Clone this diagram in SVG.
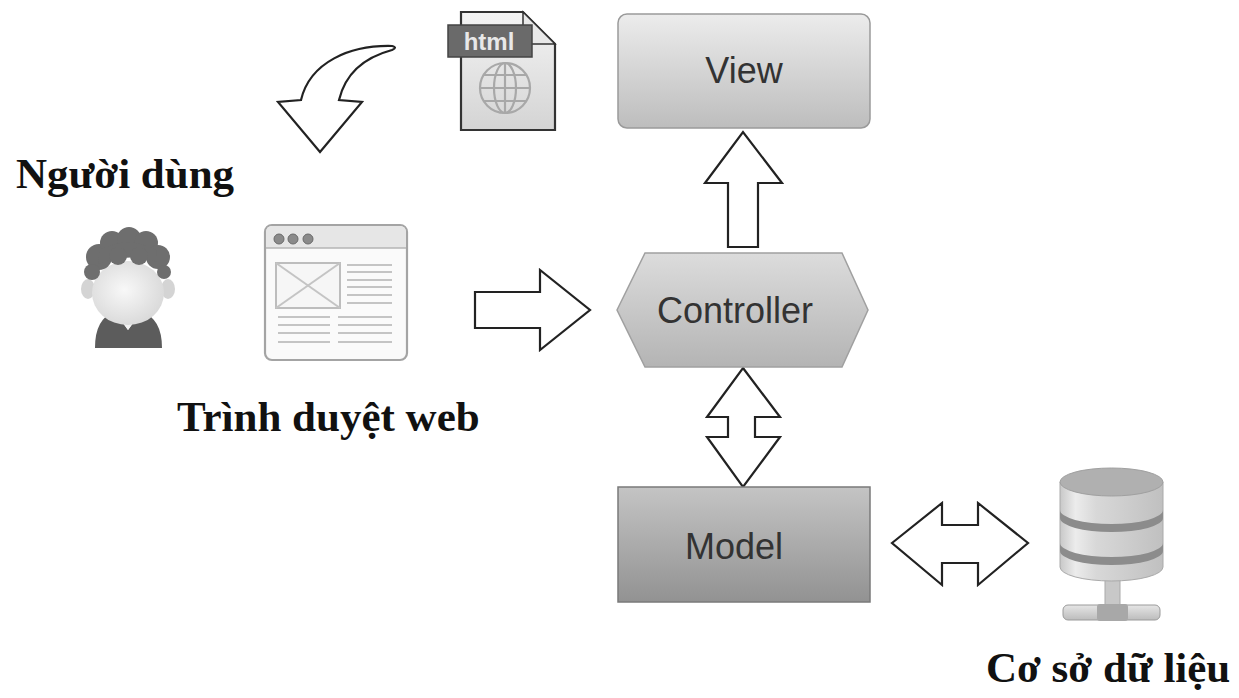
<svg xmlns="http://www.w3.org/2000/svg" width="1239" height="698" viewBox="0 0 1239 698">
<style>
.arrow{fill:#fff;stroke:#222;stroke-width:2.2;stroke-linejoin:miter}
.lbl{font-family:"Liberation Serif","Times New Roman",serif;font-weight:bold;fill:#111;font-size:43px}
.box{font-family:"Liberation Sans",Arial,sans-serif;font-size:36px;fill:#333;text-anchor:middle}
.ln{stroke:#c4c4c4;stroke-width:2}
</style>
<defs>
<linearGradient id="gView" x1="0" y1="0" x2="0" y2="1"><stop offset="0" stop-color="#ececec"/><stop offset="1" stop-color="#bdbdbd"/></linearGradient>
<linearGradient id="gCtrl" x1="0" y1="0" x2="0" y2="1"><stop offset="0" stop-color="#dcdcdc"/><stop offset="1" stop-color="#b4b4b4"/></linearGradient>
<linearGradient id="gModel" x1="0" y1="0" x2="0" y2="1"><stop offset="0" stop-color="#c4c4c4"/><stop offset="1" stop-color="#929292"/></linearGradient>
<linearGradient id="gDoc" x1="0" y1="0" x2="0" y2="1"><stop offset="0" stop-color="#f4f4f4"/><stop offset="1" stop-color="#d4d4d4"/></linearGradient>
<linearGradient id="gCyl" x1="0" y1="0" x2="1" y2="0"><stop offset="0" stop-color="#c8c8c8"/><stop offset="0.15" stop-color="#ececec"/><stop offset="0.35" stop-color="#d8d8d8"/><stop offset="1" stop-color="#c0c0c0"/></linearGradient>
<radialGradient id="gFace" cx="0.45" cy="0.45" r="0.6"><stop offset="0" stop-color="#f8f8f8"/><stop offset="1" stop-color="#d8d8d8"/></radialGradient>
<linearGradient id="gBar" x1="0" y1="0" x2="0" y2="1"><stop offset="0" stop-color="#e6e6e6"/><stop offset="1" stop-color="#bcbcbc"/></linearGradient>
</defs>

<g id="connectors">
  <path class="arrow" d="M392 46 C350 45 310 62 301 100 L278 102 L320 152 L362 102 L339 100 C345 75 362 58 392 50 C396 48 396 47 392 46 Z"/>
  <path class="arrow" d="M475 292 L540 292 L540 270 L590 310 L540 350 L540 328 L475 328 Z"/>
  <path class="arrow" d="M728 247 L728 183 L705 183 L743 132 L782 183 L758 183 L758 247 Z"/>
  <path class="arrow" d="M743 368 L780 417 L755 417 L755 437 L780 437 L743 487 L707 437 L728 437 L728 417 L707 417 Z"/>
  <path class="arrow" d="M892 543 L942 503 L942 525 L978 525 L978 503 L1028 543 L978 585 L978 563 L942 563 L942 585 Z"/>
</g>

<g id="view">
  <rect x="618" y="14" width="252" height="114" rx="9" fill="url(#gView)" stroke="#9a9a9a" stroke-width="1.5"/>
  <text class="box" x="744" y="83">View</text>
</g>

<g id="controller">
  <polygon points="617,310 645,253 842,253 868,310 842,367 645,367" fill="url(#gCtrl)" stroke="#a0a0a0" stroke-width="1.5"/>
  <text class="box" x="735" y="323">Controller</text>
</g>

<g id="model">
  <rect x="618" y="487" width="252" height="115" fill="url(#gModel)" stroke="#7a7a7a" stroke-width="1.5"/>
  <text class="box" x="734" y="559">Model</text>
</g>

<g id="html-file">
  <path d="M461 12 L523 12 L555 44 L555 130 L461 130 Z" fill="url(#gDoc)" stroke="#333" stroke-width="2.2"/>
  <path d="M523 12 L523 44 L555 44 Z" fill="#e8e8e8" stroke="#333" stroke-width="1.5"/>
  <rect x="448" y="25" width="84" height="32" fill="#6a6a6a" stroke="#444" stroke-width="1.5"/>
  <text x="489" y="50" font-family="'Liberation Sans',Arial,sans-serif" font-size="24" font-weight="bold" fill="#e8e8e8" text-anchor="middle">html</text>
  <g fill="none" stroke="#a8a8a8" stroke-width="2.2">
    <circle cx="505" cy="88" r="25"/>
    <ellipse cx="505" cy="88" rx="11" ry="25"/>
    <line x1="505" y1="63" x2="505" y2="113"/>
    <line x1="480" y1="88" x2="530" y2="88"/>
    <line x1="484" y1="75" x2="526" y2="75"/>
    <line x1="484" y1="101" x2="526" y2="101"/>
  </g>
</g>

<g id="user">
  <text class="lbl" x="16" y="188">Người dùng</text>
  <path d="M95 348 Q95 318 115 312 L128 330 L141 312 Q162 318 162 348 Z" fill="#5c5c5c"/>
  <path d="M115 312 L128 330 L141 312 Z" fill="#f2f2f2"/>
  <ellipse cx="88" cy="289" rx="7" ry="10" fill="#d4d4d4"/>
  <ellipse cx="168" cy="289" rx="7" ry="10" fill="#d4d4d4"/>
  <ellipse cx="128" cy="293" rx="36" ry="32" fill="url(#gFace)"/>
  <g fill="#6e6e6e">
    <circle cx="99" cy="257" r="13"/>
    <circle cx="112" cy="243" r="12"/>
    <circle cx="129" cy="239" r="12"/>
    <circle cx="146" cy="243" r="12"/>
    <circle cx="158" cy="257" r="12"/>
    <circle cx="92" cy="272" r="8"/>
    <circle cx="164" cy="272" r="7"/>
    <path d="M100 250 Q128 235 156 250 L158 262 Q128 252 98 264 Z"/>
    <circle cx="118" cy="256" r="9"/>
    <circle cx="139" cy="256" r="9"/>
  </g>
</g>

<g id="browser">
  <rect x="265" y="225" width="142" height="135" rx="7" fill="#fafafa" stroke="#a4a4a4" stroke-width="2.2"/>
  <path d="M266 248 L266 232 Q266 226 272 226 L400 226 Q406 226 406 232 L406 248 Z" fill="#e6e6e6"/>
  <line x1="266" y1="248" x2="406" y2="248" stroke="#b4b4b4" stroke-width="1.5"/>
  <g fill="#8a8a8a" stroke="#6a6a6a" stroke-width="1"><circle cx="279" cy="239" r="5"/><circle cx="293" cy="239" r="5"/><circle cx="308" cy="239" r="5"/></g>
  <rect x="276" y="263" width="64" height="45" fill="#f6f6f6" stroke="#bdbdbd" stroke-width="2"/>
  <line x1="276" y1="263" x2="340" y2="308" stroke="#c4c4c4" stroke-width="2"/>
  <line x1="340" y1="263" x2="276" y2="308" stroke="#c4c4c4" stroke-width="2"/>
  <g class="ln">
    <line x1="347" y1="265" x2="392" y2="265"/><line x1="347" y1="272" x2="392" y2="272"/>
    <line x1="347" y1="280" x2="392" y2="280"/><line x1="347" y1="287" x2="392" y2="287"/>
    <line x1="347" y1="295" x2="392" y2="295"/><line x1="347" y1="303" x2="392" y2="303"/>
    <line x1="278" y1="317" x2="330" y2="317"/><line x1="338" y1="317" x2="392" y2="317"/>
    <line x1="278" y1="325" x2="330" y2="325"/><line x1="338" y1="325" x2="392" y2="325"/>
    <line x1="278" y1="333" x2="330" y2="333"/><line x1="338" y1="333" x2="392" y2="333"/>
    <line x1="278" y1="342" x2="330" y2="342"/><line x1="338" y1="342" x2="392" y2="342"/>
  </g>
  <text class="lbl" x="177" y="431">Trình duyệt web</text>
</g>

<g id="database">
  <rect x="1105" y="570" width="15" height="38" fill="#c8c8c8" stroke="#aaa" stroke-width="1"/>
  <rect x="1063" y="605" width="97" height="15" rx="5" fill="url(#gBar)" stroke="#9a9a9a" stroke-width="1"/>
  <rect x="1097" y="604" width="31" height="17" rx="3" fill="#a8a8a8"/>
  <path d="M1060 482 L1060 567 A51.5 14 0 0 0 1163 567 L1163 482 Z" fill="url(#gCyl)" stroke="#aaa" stroke-width="1"/>
  <path d="M1060 510 A51.5 14 0 0 0 1163 510 L1163 518 A51.5 14 0 0 1 1060 518 Z" fill="#8c8c8c"/>
  <path d="M1060 543 A51.5 14 0 0 0 1163 543 L1163 551 A51.5 14 0 0 1 1060 551 Z" fill="#8c8c8c"/>
  <ellipse cx="1111.5" cy="482" rx="51.5" ry="14" fill="#b0b0b0" stroke="#a0a0a0" stroke-width="1"/>
  <text class="lbl" x="986" y="682">Cơ sở dữ liệu</text>
</g>
</svg>
